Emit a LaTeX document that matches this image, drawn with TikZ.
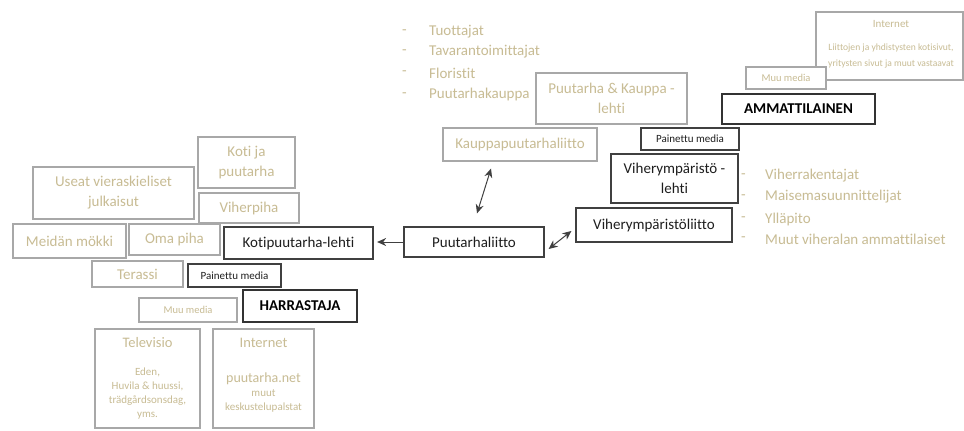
\documentclass[tikz,border=0pt]{standalone}
\usepackage{fontspec}
\setmainfont{Carlito}[Ligatures={NoCommon}]
\usetikzlibrary{arrows.meta}
\definecolor{tan}{RGB}{200,188,148}
\definecolor{lgray}{RGB}{168,168,168}
\definecolor{dgray}{RGB}{64,64,64}
\definecolor{txt}{RGB}{30,30,30}
\tikzset{
  base/.style={inner sep=0pt, align=center, fill=white},
  lbox/.style={base, draw=lgray, line width=1.1pt, text=tan, font=\fontsize{15}{20}\selectfont},
  dbox/.style={base, draw=dgray, line width=1.2pt, text=txt, font=\fontsize{15}{20}\selectfont},
  mbox/.style={base, draw=dgray, line width=1.2pt, text=txt, font=\fontsize{11}{13}\selectfont},
  sbox/.style={base, draw=lgray, line width=1.1pt, text=tan, font=\fontsize{10.5}{13}\selectfont},
  hbox/.style={base, draw=black!80, line width=2.8pt, text=black, font=\fontsize{15}{18}\selectfont\bfseries},
  ltxt/.style={inner sep=0pt, text=tan, font=\fontsize{15}{18}\selectfont, anchor=west},
  ttl/.style={inner sep=0pt, text=tan, font=\fontsize{14.5}{17}\selectfont},
  small/.style={inner sep=0pt, text=tan, font=\fontsize{11}{14}\selectfont, align=center},
  tiny/.style={inner sep=0pt, text=tan, font=\fontsize{9.6}{12}\selectfont},
  con/.style={line width=1pt, draw=dgray},
  tip/.style={-{Stealth[length=9pt,width=8pt]}, con},
  bitip/.style={{Stealth[length=9pt,width=8pt]}-{Stealth[length=9pt,width=8pt]}, con}
}
\begin{document}
\begin{tikzpicture}[x=1pt,y=-1pt]
\useasboundingbox (0,0) rectangle (964,431);
\fill[white] (0,0) rectangle (964,431);

% top list
\foreach \yy/\tt [count=\i] in {32/Tuottajat,52/Tavarantoimittajat,73/Floristit,95/Puutarhakauppa}{
  \node[ltxt] (ld\i) at (402,\yy) {-};
  \node[ltxt] (lt\i) at (429,\yy) {\tt};
}

% top-right internet
\node[lbox, minimum width=147pt, minimum height=68pt] (inet1) at (889.5,46) {};
\node[tiny, font=\fontsize{11}{13}\selectfont] (inet1t) at (891,24) {Internet};
\node[tiny] (inet1a) at (891,48) {Liittojen ja yhdistysten kotisivut,};
\node[tiny] (inet1b) at (891,64) {yritysten sivut ja muut vastaavat};
\node[sbox, minimum width=80pt, minimum height=22pt] (mm1) at (786,78) {Muu media};
\node[hbox, minimum width=153pt, minimum height=30pt] (amm) at (798.5,109) {AMMATTILAINEN};

\node[lbox, minimum width=151pt, minimum height=51pt] (pk) at (611.5,98.5) {Puutarha \& Kauppa -\\lehti};
\node[lbox, minimum width=154pt, minimum height=33pt] (kpl) at (520,144.5) {Kauppapuutarhaliitto};
\node[mbox, minimum width=98pt, minimum height=22pt] (pm1) at (690,139) {Painettu media};
\node[dbox, minimum width=127pt, minimum height=49pt] (vl) at (674.5,178.5) {Viherympäristö -\\lehti};
\node[dbox, minimum width=156pt, minimum height=34pt] (vli) at (654,225) {Viherympäristöliitto};

% right list
\foreach \yy/\tt [count=\i] in {176/Viherrakentajat,197/Maisemasuunnittelijat,219/Ylläpito,239/Muut viheralan ammattilaiset}{
  \node[ltxt] (rd\i) at (741,\yy) {-};
  \node[ltxt] (rt\i) at (765,\yy) {\tt};
}

\node[dbox, minimum width=140pt, minimum height=30pt] (pl) at (474,242) {Puutarhaliitto};

% left cluster
\node[lbox, minimum width=97pt, minimum height=51pt] (kjp) at (246.5,162.5) {Koti ja\\puutarha};
\node[lbox, minimum width=161pt, minimum height=52pt] (useat) at (113.5,193) {Useat vieraskieliset\\julkaisut};
\node[lbox, minimum width=100pt, minimum height=30pt] (vp) at (249,208) {Viherpiha};
\node[lbox, minimum width=113pt, minimum height=34pt] (mok) at (69.5,241) {Meidän mökki};
\node[lbox, minimum width=91pt, minimum height=31pt] (oma) at (174.5,239.5) {Oma piha};
\node[dbox, minimum width=149pt, minimum height=32pt] (kpl2) at (298.5,243) {Kotipuutarha-lehti};
\node[lbox, minimum width=91pt, minimum height=26pt] (ter) at (137.5,274) {Terassi};
\node[mbox, minimum width=93pt, minimum height=23pt] (pm2) at (234.5,275.5) {Painettu media};
\node[sbox, minimum width=98pt, minimum height=24pt] (mm2) at (188,310) {Muu media};
\node[hbox, minimum width=114pt, minimum height=32pt] (har) at (300,306) {HARRASTAJA};

\node[lbox, minimum width=105pt, minimum height=99pt] (tv) at (147.5,378.5) {};
\node[ttl] (tvt) at (147.5,343) {Televisio};
\node[small] (tvl) at (147.5,393.5) {Eden,\\Huvila \& huussi,\\trädgårdsonsdag,\\yms.};
\node[lbox, minimum width=101pt, minimum height=99pt] (inet2) at (263.5,378.5) {};
\node[ttl] (inet2t) at (263.5,343) {Internet};
\node[ttl, font=\fontsize{14}{17}\selectfont] (inet2n) at (263.5,379) {puutarha.net};
\node[small] (inet2l) at (263.5,400.5) {muut\\keskustelupalstat};

% connectors
\draw[tip, shorten >=3.5pt] (pl.west) -- (kpl2.east |- pl.west);
\draw[bitip] ([xshift=3pt,yshift=13pt]pl.north) -- ([xshift=-29pt,yshift=-7pt]kpl.south);
\draw[bitip] ([xshift=4pt,yshift=-7pt]pl.east) -- ([xshift=-4pt,yshift=-6pt]vli.west);
\end{tikzpicture}
\end{document}
